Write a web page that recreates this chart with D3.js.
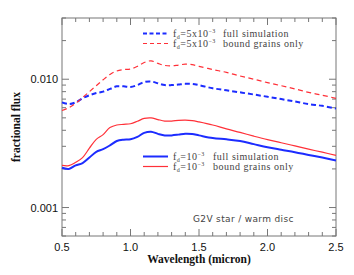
<!DOCTYPE html>
<html>
<head>
<meta charset="utf-8">
<script src="https://cdn.jsdelivr.net/npm/d3@7"></script>
<style>
  html, body { margin: 0; padding: 0; background: #fff; }
  svg { display: block; }
  .tick-label { font-family: "Liberation Sans", Arial, sans-serif; font-size: 11px; fill: #111; }
  .axis-title { font-family: "Liberation Serif", "Times New Roman", serif; font-size: 11.5px; font-weight: bold; fill: #111; }
  .legend { font-family: "Liberation Serif", "Times New Roman", serif; font-size: 10px; fill: #444; letter-spacing: 0.5px; }
  .note { font-family: "DejaVu Sans", sans-serif; font-size: 9px; fill: #444; letter-spacing: 0.35px; }
</style>
</head>
<body>
<svg id="chart" width="354" height="275"></svg>
<script>
// wavelength grid (micron)
const wavelength = [0.5, 0.55, 0.6, 0.65, 0.7, 0.75, 0.8, 0.85, 0.9, 0.95, 1.0, 1.05, 1.1, 1.15, 1.2,
  1.25, 1.3, 1.35, 1.4, 1.45, 1.5, 1.6, 1.7, 1.8, 1.9, 2.0, 2.1, 2.2, 2.3, 2.4, 2.5]

// f_d = 5e-3
const fullHigh = [0.0066, 0.0064, 0.0066, 0.0071, 0.0075, 0.0078, 0.0080, 0.0084, 0.0088, 0.0088, 0.0087,
  0.0090, 0.0095, 0.0096, 0.0093, 0.0090, 0.0090, 0.0091, 0.0092, 0.0092, 0.0090, 0.0085, 0.0082,
  0.0079, 0.0076, 0.0073, 0.0070, 0.0067, 0.0064, 0.0062, 0.0059]
const boundHigh = [0.0057, 0.0060, 0.0065, 0.0072, 0.0080, 0.0089, 0.0099, 0.0109, 0.0116, 0.0119, 0.0120,
  0.0126, 0.0135, 0.0139, 0.0133, 0.0128, 0.0127, 0.0129, 0.0131, 0.0130, 0.0126, 0.0119, 0.0113,
  0.0106, 0.0100, 0.0094, 0.0089, 0.0084, 0.0079, 0.0075, 0.0071]

// f_d = 1e-3
const fullLow = [0.00204, 0.00200, 0.00213, 0.00222, 0.00245, 0.00272, 0.00285, 0.00305, 0.00330, 0.00338,
  0.00340, 0.00355, 0.00382, 0.00390, 0.00375, 0.00364, 0.00365, 0.00370, 0.00376, 0.00374, 0.00365,
  0.00348, 0.00340, 0.00330, 0.00312, 0.00295, 0.00282, 0.00270, 0.00257, 0.00245, 0.00233]
const boundLow = [0.00213, 0.00212, 0.00225, 0.00245, 0.00290, 0.00340, 0.00370, 0.00420, 0.00440, 0.00445,
  0.00450, 0.00470, 0.00495, 0.00500, 0.00485, 0.00472, 0.00472, 0.00478, 0.00480, 0.00476, 0.00465,
  0.00440, 0.00410, 0.00385, 0.00360, 0.00338, 0.00320, 0.00302, 0.00285, 0.00270, 0.00255]

const xTickValues = [0.5, 1.0, 1.5, 2.0, 2.5]
const yTickValues = [0.001, 0.01]
const yTickLabels = ["0.001", "0.010"]

const BLUE = "#1c2cff"
const RED = "#ff3038"

const margin = { left: 62, right: 18, top: 18, bottom: 39 }
const width = 354, height = 275
const svg = d3.select("#chart")

const x = d3.scaleLinear().domain([0.5, 2.5]).range([margin.left, width - margin.right])
const y = d3.scaleLog().domain([0.0006, 0.03]).range([height - margin.bottom, margin.top])

const x0 = x.range()[0], x1 = x.range()[1]
const y0 = y.range()[0], y1 = y.range()[1]

// frame
const frame = svg.append("g").attr("stroke", "#777").attr("stroke-width", 1)
frame.append("rect")
  .attr("x", x0).attr("y", y1)
  .attr("width", x1 - x0).attr("height", y0 - y1)
  .attr("fill", "none")

// x ticks (major 0.5, minor 0.1), inward on bottom and top
const xMinor = d3.range(5, 26).map(d => d / 10)
xMinor.forEach(v => {
  const major = xTickValues.some(t => Math.abs(t - v) < 1e-9)
  const len = major ? 7 : 4
  frame.append("line").attr("x1", x(v)).attr("x2", x(v)).attr("y1", y0).attr("y2", y0 - len)
  frame.append("line").attr("x1", x(v)).attr("x2", x(v)).attr("y1", y1).attr("y2", y1 + len)
})

// y ticks (log), inward on left and right
const yMinor = []
;[0.0001, 0.001, 0.01].forEach(dec => {
  for (let k = 1; k <= 9; k++) yMinor.push(dec * k)
})
yMinor.filter(v => v >= 0.0006 - 1e-12 && v <= 0.03 + 1e-12).forEach(v => {
  const major = yTickValues.some(t => Math.abs(t - v) < 1e-12)
  const len = major ? 7 : 4
  frame.append("line").attr("x1", x0).attr("x2", x0 + len).attr("y1", y(v)).attr("y2", y(v))
  frame.append("line").attr("x1", x1).attr("x2", x1 - len).attr("y1", y(v)).attr("y2", y(v))
})

// tick labels
svg.append("g").selectAll("text").data(xTickValues).join("text")
  .attr("class", "tick-label")
  .attr("x", d => x(d)).attr("y", y0 + 15)
  .attr("text-anchor", "middle")
  .text(d => d.toFixed(1))

svg.append("g").selectAll("text").data(yTickValues).join("text")
  .attr("class", "tick-label")
  .attr("x", x0 - 4).attr("y", d => y(d) + 4)
  .attr("text-anchor", "end")
  .text((d, i) => yTickLabels[i])

// axis titles
svg.append("text").attr("class", "axis-title")
  .attr("x", (x0 + x1) / 2).attr("y", height - 12)
  .attr("text-anchor", "middle")
  .text("Wavelength (micron)")

svg.append("text").attr("class", "axis-title")
  .attr("transform", `translate(20,${(y0 + y1) / 2}) rotate(-90)`)
  .attr("text-anchor", "middle")
  .text("fractional flux")

// curves
const line = d3.line()
  .x((d, i) => x(wavelength[i]))
  .y(d => y(d))
  .curve(d3.curveCatmullRom.alpha(0.5))

const series = [
  { values: fullHigh, color: BLUE, width: 2, dash: "5,3" },
  { values: boundHigh, color: RED, width: 1.2, dash: "5,3.5" },
  { values: fullLow, color: BLUE, width: 2, dash: null },
  { values: boundLow, color: RED, width: 1.2, dash: null }
]

svg.append("g").selectAll("path").data(series).join("path")
  .attr("d", d => line(d.values))
  .attr("fill", "none")
  .attr("stroke", d => d.color)
  .attr("stroke-width", d => d.width)
  .attr("stroke-dasharray", d => d.dash)

// legends
const legendItems = [
  { y: 33.5, color: BLUE, width: 2, dash: "4,2.5", exp: "5x10", labelX: 223, label: "full simulation" },
  { y: 43.5, color: RED, width: 1.2, dash: "4,3", exp: "5x10", labelX: 223, label: "bound grains only" },
  { y: 156.5, color: BLUE, width: 2, dash: null, exp: "10", labelX: 213, label: "full simulation" },
  { y: 166.5, color: RED, width: 1.2, dash: null, exp: "10", labelX: 213, label: "bound grains only" }
]

const lg = svg.append("g")
legendItems.forEach(item => {
  lg.append("line")
    .attr("x1", 143).attr("x2", 168)
    .attr("y1", item.y).attr("y2", item.y)
    .attr("stroke", item.color).attr("stroke-width", item.width)
    .attr("stroke-dasharray", item.dash)
  const t = lg.append("text").attr("class", "legend")
    .attr("x", 173).attr("y", item.y + 3)
  t.append("tspan").text("f")
  t.append("tspan").attr("dy", 2).attr("font-size", "6px").text("d")
  t.append("tspan").attr("dy", -2).text("=" + item.exp)
  t.append("tspan").attr("dy", -3.5).attr("font-size", "6px").text("−3")
  lg.append("text").attr("class", "legend")
    .attr("x", item.labelX).attr("y", item.y + 3)
    .text(item.label)
})

svg.append("text").attr("class", "note")
  .attr("x", 193).attr("y", 222)
  .text("G2V star / warm disc")
</script>
</body>
</html>
